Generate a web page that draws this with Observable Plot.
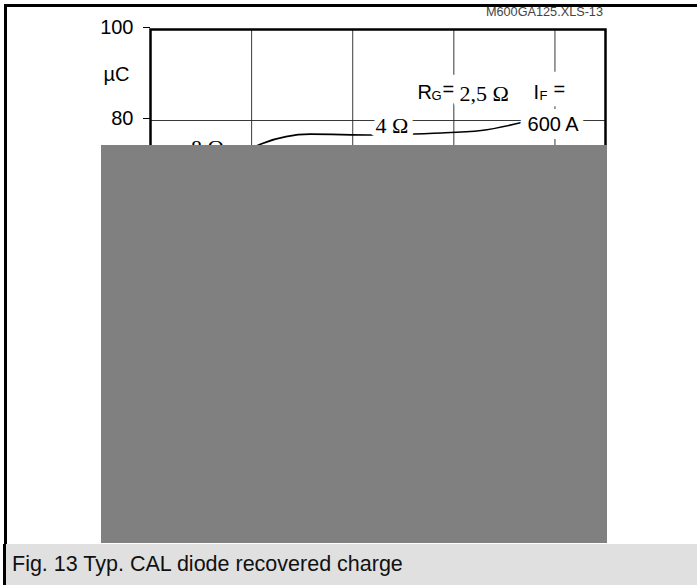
<!DOCTYPE html>
<html><head><meta charset="utf-8">
<script src="https://cdn.jsdelivr.net/npm/d3@7"></script>
<script src="https://cdn.jsdelivr.net/npm/@observablehq/plot@0.6"></script>
<style>
body{margin:0;background:#fff;}
#page{position:relative;width:697px;height:585px;overflow:hidden;font-family:"Liberation Sans",Arial,sans-serif;background:#fff;}
#chart{position:absolute;left:0;top:0;}
#mask{position:absolute;left:101px;top:145px;width:506px;height:398px;background:#808080;}
#border{position:absolute;left:4px;top:4px;right:0;bottom:0;border-top:3px solid #000;border-left:3px solid #000;pointer-events:none;}
#caption{position:absolute;left:3px;right:0;top:544px;height:41px;background:#e0e0e0;border-left:3px solid #000;font-size:21.5px;line-height:41px;padding-left:6px;color:#111;}
#code{position:absolute;right:94px;top:5px;font-size:12.7px;color:#444;}
</style>
</head><body>
<div id="page">
  <div id="chart"></div>
  <div id="code">M600GA125.XLS-13</div>
  <div id="mask"></div>
  <div id="border"></div>
  <div id="caption">Fig. 13 Typ. CAL diode recovered charge</div>
</div>
<script>
// ---- data (read / estimated from the reference) ----
const xTicks = [0, 1000, 2000, 3000, 4000];          // diF/dt, A/µs
const yTicks = [0, 20, 40, 60, 80, 100];             // Qrr, µC

const diFdt600 = [300, 600, 900, 1100, 1580, 2200, 2800, 3270, 3680];
const qrr600   = [55, 66, 72.5, 74.9, 77.0, 76.8, 77.2, 77.8, 79.6];
const diFdt450 = [300, 600, 1000, 1500, 2000, 2500, 3000, 3500];
const qrr450   = [44, 52, 57, 60, 62, 63.5, 64.5, 65.5];
const diFdt300 = [300, 600, 1000, 1500, 2000, 2500, 3000];
const qrr300   = [33, 39, 43, 46, 48, 49, 50];
const diFdt150 = [300, 600, 1000, 1500, 2000, 2500];
const qrr150   = [20, 24, 27, 29, 30, 31];

const seriesNames = ["600 A", "450 A", "300 A", "150 A"];
const seriesX = [diFdt600, diFdt450, diFdt300, diFdt150];
const seriesY = [qrr600, qrr450, qrr300, qrr150];

// RG labels along the curves (text, diF/dt, Qrr)
const rgText = ["4 Ω", "8 Ω"];
const rgX    = [2226, 400];
const rgY    = [78.9, 73.9];

// ---- build table ----
const rows = seriesNames.flatMap((name, s) =>
  seriesX[s].map((x, i) => ({IF: name, x, y: seriesY[s][i]})));
const rgRows = rgText.map((t, i) => ({t, x: rgX[i], y: rgY[i]}));

const sans = '"Liberation Sans", Arial, sans-serif';
const serif = '"Liberation Serif", "Times New Roman", serif';

// annotation pieces: [text, x, y, font, size, halo]
const ann = [
  ["R",     2641, 86.2, sans, 20, 20],
  ["G",     2779, 85.5, sans, 13, 20],
  ["=",     2888, 86.9, sans, 20, 22],
  ["2,5 Ω", 3056, 85.9, serif, 22, 14],
  ["I",     3788, 86.2, sans, 20, 20],
  ["F",     3847, 85.5, sans, 13, 20],
  ["=",     3986, 86.9, sans, 20, 28],
  ["600 A", 3729, 79.0, sans, 20, 16]
];
const annRows = ann.map(([t, x, y, f, s, h]) => ({t, x, y, f, s, h}));

function labelMarks(data, fontFamily, size, haloWidth) {
  const base = {x: "x", y: "y", text: "t", textAnchor: "start", fontFamily, fontSize: size};
  return [
    Plot.text(data, {...base, fill: "white", stroke: "white", strokeWidth: haloWidth}),
    Plot.text(data, {...base, fill: "#000"})
  ];
}
const halos = [];
const fills = [];
for (const r of annRows) {
  const [h, f] = labelMarks([r], r.f, r.s, r.h);
  halos.push(h); fills.push(f);
}
const [rgHalo, rgFill] = labelMarks(rgRows, serif, 22, 12);

const chart = Plot.plot({
  width: 697, height: 540,
  marginLeft: 150, marginRight: 92, marginTop: 29, marginBottom: 56,
  x: {domain: [0, 4500], label: null},
  y: {domain: [0, 100], label: null},
  style: {fontFamily: sans, fontSize: "20px", color: "#000", background: "transparent"},
  marks: [
    Plot.gridX(xTicks, {stroke: "#222", strokeOpacity: 1, strokeWidth: 0.9}),
    Plot.gridY(yTicks, {stroke: "#222", strokeOpacity: 1, strokeWidth: 0.9}),
    Plot.line(rows, {x: "x", y: "y", z: "IF", stroke: "#000", strokeWidth: 1.6, curve: "monotone-x"}),
    Plot.axisY(yTicks, {tickSize: 7, tickPadding: 10, fontSize: 20, label: null, dy: -2}),
    Plot.axisX(xTicks, {tickSize: 0, tickPadding: 8, fontSize: 20, label: null}),
    Plot.text(["µC"], {x: 0, y: 90, dx: -21, textAnchor: "end", fontSize: 20}),
    Plot.frame({stroke: "#000", strokeWidth: 2.5}),
    rgHalo, ...halos,
    rgFill, ...fills
  ]
});
document.getElementById("chart").appendChild(chart);
</script>
</body></html>
